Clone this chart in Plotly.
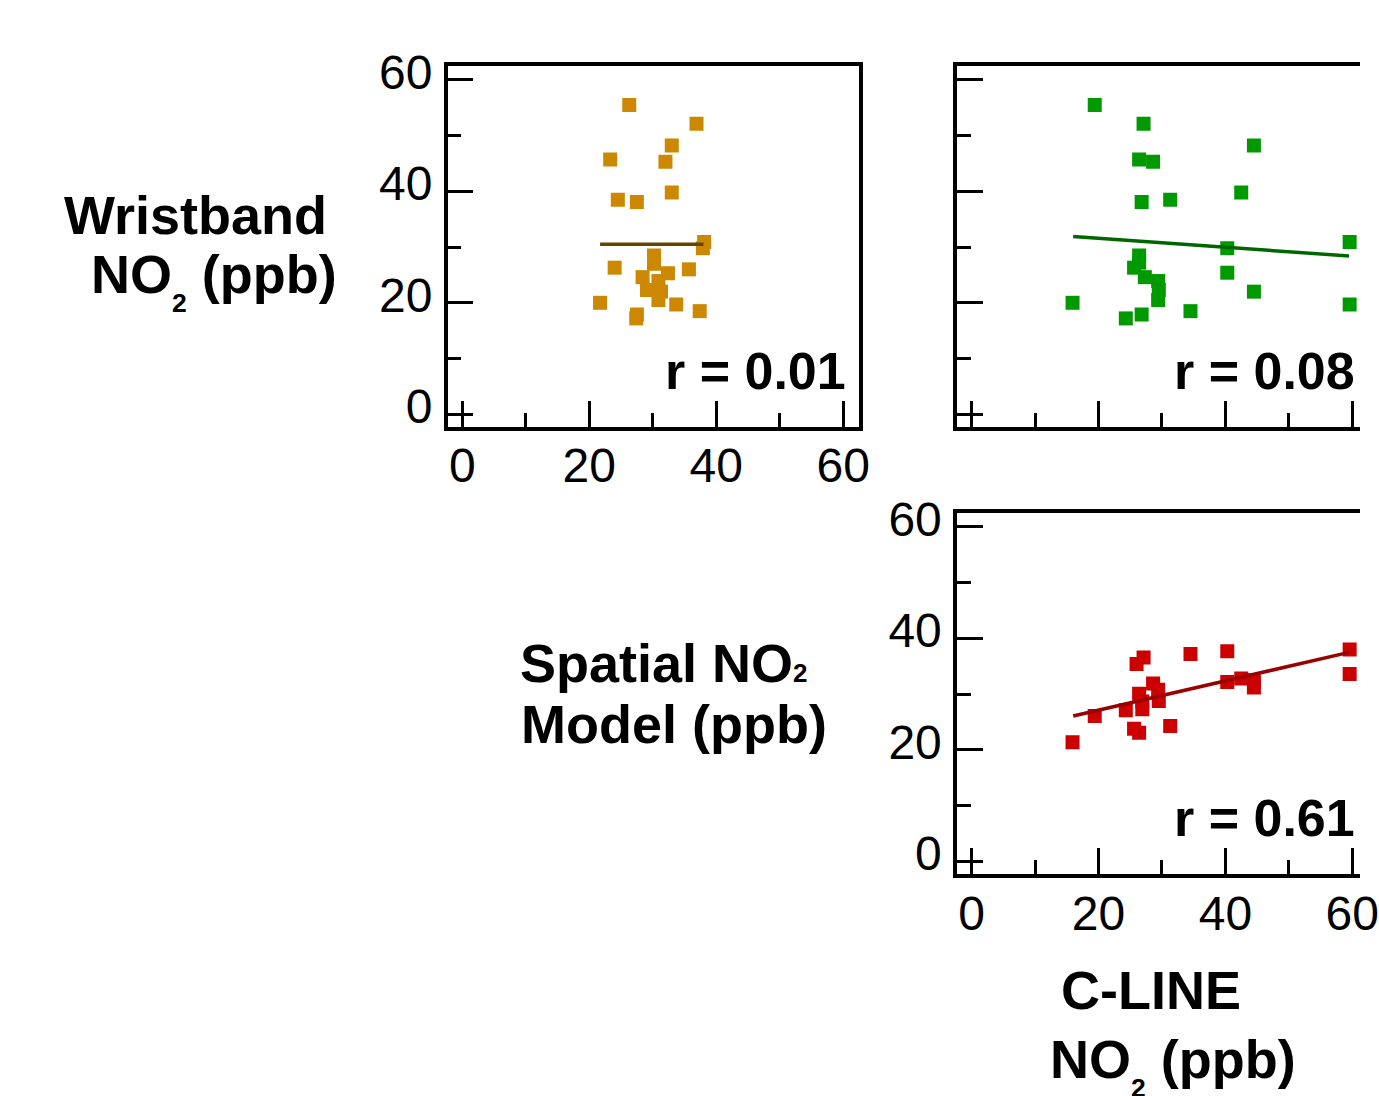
import plotly.graph_objects as go

W, H = 1379, 1096

# Wristband NO2 vs spatial model NO2
spatial_x1 = [26.3, 36.9, 33.0, 23.3, 32.0, 33.0, 24.5, 27.5, 38.1, 37.9, 30.2, 30.2, 24.0,
              35.7, 32.4, 28.4, 30.9, 29.1, 31.3, 30.9, 21.7, 33.7, 37.4, 27.5, 27.4]
wristband_y1 = [55.5, 52.1, 48.2, 45.7, 45.3, 39.8, 38.5, 38.1, 30.9, 29.8, 28.5, 27.0, 26.3,
                26.0, 25.3, 24.6, 23.9, 22.3, 22.0, 20.5, 20.0, 19.7, 18.5, 17.9, 17.2]
fit1_x = [21.7, 38.0]
fit1_y = [30.5, 30.5]

# Wristband NO2 vs C-LINE NO2
cline_x2 = [19.4, 27.1, 44.5, 26.4, 28.6, 42.5, 31.3, 26.8, 59.6, 40.3, 26.4, 26.4, 25.6,
            40.3, 27.3, 29.4, 29.5, 44.5, 29.4, 15.9, 59.6, 34.5, 26.8, 24.3]
wristband_y2 = [55.5, 52.1, 48.2, 45.7, 45.3, 39.8, 38.5, 38.1, 30.9, 29.8, 28.5, 27.2, 26.3,
                25.4, 24.6, 23.9, 22.3, 22.0, 20.5, 20.0, 19.7, 18.5, 17.9, 17.2]
fit2_x = [16.0, 59.5]
fit2_y = [31.9, 28.4]

# Spatial model NO2 vs C-LINE NO2
cline_x3 = [15.9, 19.4, 24.3, 25.6, 26.4, 26.0, 27.1, 26.4, 26.9, 26.9, 28.6, 29.4, 29.5,
            31.3, 34.5, 40.3, 40.3, 42.5, 44.5, 44.5, 59.6, 59.6]
spatial_y3 = [21.4, 26.1, 27.1, 23.8, 23.1, 35.4, 36.6, 30.1, 28.7, 27.3, 31.9, 30.8, 28.8,
              24.3, 37.2, 37.7, 32.2, 32.8, 32.5, 31.2, 38.0, 33.6]
fit3_x = [16.0, 59.5]
fit3_y = [26.1, 37.5]

r_labels = ["r = 0.01", "r = 0.08", "r = 0.61"]
tick_vals = [0, 20, 40, 60]
tick_text = ["0", "20", "40", "60"]

FONT = "Liberation Sans, Arial, Helvetica, sans-serif"


def px(x):
    """pixel column -> paper fraction"""
    return x / W


def py(y):
    """pixel row (from top) -> paper fraction"""
    return 1 - y / H


fig = go.Figure()

panels = [
    # (xaxis id, yaxis id, x, y, fit x, fit y, marker colour, line colour)
    ("x", "y", spatial_x1, wristband_y1, fit1_x, fit1_y, "rgb(204,136,0)", "rgb(102,68,0)"),
    ("x2", "y2", cline_x2, wristband_y2, fit2_x, fit2_y, "rgb(0,153,0)", "rgb(0,102,0)"),
    ("x3", "y3", cline_x3, spatial_y3, fit3_x, fit3_y, "rgb(204,0,0)", "rgb(153,0,0)"),
]

for xa, ya, xs, ys, fx, fy, mc, lc in panels:
    fig.add_trace(go.Scatter(
        x=xs, y=ys, xaxis=xa, yaxis=ya, mode="markers",
        marker=dict(symbol="square", size=14, color=mc, line=dict(width=0)),
        showlegend=False, hoverinfo="skip"))
    fig.add_trace(go.Scatter(
        x=fx, y=fy, xaxis=xa, yaxis=ya, mode="lines",
        line=dict(color=lc, width=3.5),
        showlegend=False, hoverinfo="skip"))


def axis_style(domain, rng, show_labels, mirror):
    return dict(
        domain=domain, range=rng, autorange=False,
        showline=True, linewidth=3.5, linecolor="black", mirror=mirror,
        showgrid=False, zeroline=False,
        ticks="inside", ticklen=26, tickwidth=3, tickcolor="black",
        tickmode="array", tickvals=tick_vals, ticktext=tick_text,
        showticklabels=show_labels, ticklabeloverflow="allow",
        tickfont=dict(family=FONT, size=48, color="black"),
        minor=dict(ticks="inside", ticklen=14, tickwidth=3, tickcolor="black",
                   tickmode="linear", tick0=0, dtick=10),
        fixedrange=True,
    )


UNIT_X = 6.43  # pixels per ppb along x
top_y = [py(417), py(47)]
bot_y = [py(875), py(505)]
left_x = [px(454), px(871)]
right_x = [px(970.5), 1.0]
full_rng = [-2.3, 62.5]
cut_rng = [-2.3, -2.3 + (W - 970.5) / UNIT_X]

xa1 = axis_style(left_x, full_rng, True, True)
ya1 = axis_style(top_y, full_rng, True, True)
xa2 = axis_style(right_x, cut_rng, False, True)
ya2 = axis_style(top_y, full_rng, False, False)
xa3 = axis_style(right_x, cut_rng, True, True)
ya3 = axis_style(bot_y, full_rng, True, False)

for a in (xa1, xa2, xa3):
    a["ticklabelstandoff"] = -6
for a in (ya1, ya3):
    a["ticklabelstandoff"] = 2
    a["ticklabelshift"] = -8

xa2["anchor"] = "y2"
ya2["anchor"] = "x2"
xa3["anchor"] = "y3"
ya3["anchor"] = "x3"

annotations = []

# correlation coefficients, right-aligned inside each panel
for (xa, ya), txt in zip([("x", "y"), ("x2", "y2"), ("x3", "y3")], r_labels):
    annotations.append(dict(
        x=60.8, y=13.3, xref=xa, yref=ya, xanchor="right", yanchor="top",
        text=f"<b>{txt}</b>", showarrow=False,
        font=dict(family=FONT, size=52, color="black")))


def label(x, y, text, anchor="left"):
    annotations.append(dict(
        x=px(x), y=py(y), xref="paper", yref="paper", xanchor=anchor, yanchor="top",
        text=text, showarrow=False, align=anchor,
        font=dict(family=FONT, size=54, color="black")))


label(63, 167, "<b>Wristband</b>")
label(90, 227, "<b>NO<sub><sub>2</sub></sub> (ppb)</b>")
label(525, 626, "<b>Spatial NO<span style='font-size:26px'>2</span></b>")
label(526, 688, "<b>Model (ppb)</b>")
label(1167, 961, "<b>C-LINE</b>", anchor="center")
label(1063, 1031, "<b>NO<sub><sub>2</sub></sub> (ppb)</b>")

fig.update_layout(
    width=W, height=H, autosize=False,
    margin=dict(l=0, r=0, t=0, b=0),
    paper_bgcolor="white", plot_bgcolor="white",
    xaxis=xa1, yaxis=ya1, xaxis2=xa2, yaxis2=ya2, xaxis3=xa3, yaxis3=ya3,
    annotations=annotations,
    showlegend=False,
)

# the figure fills the whole page: drop the default body margin once it is drawn
fig.write_html(
    "out.html",
    config={"displayModeBar": False, "responsive": False},
    post_script="document.body.style.margin='0';",
)
